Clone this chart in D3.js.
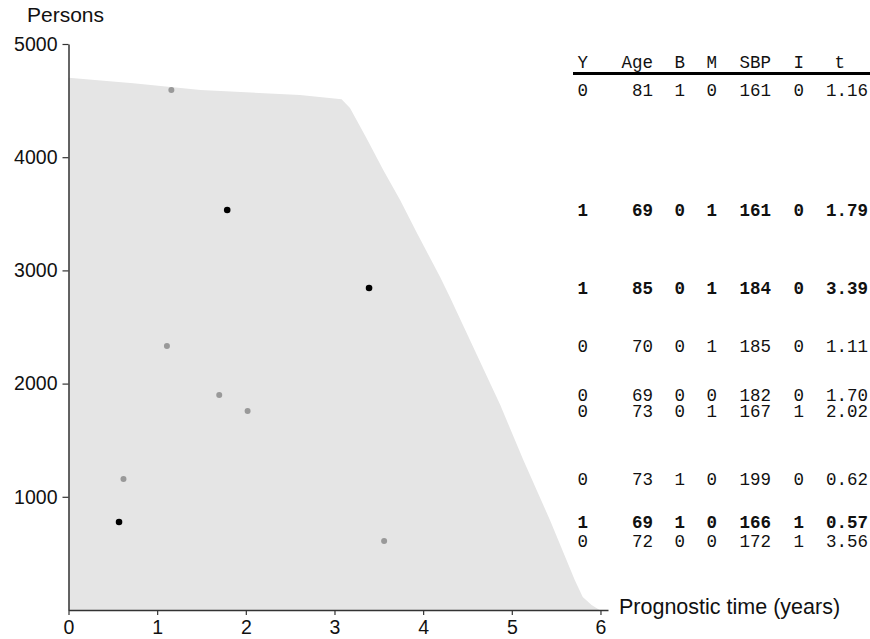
<!DOCTYPE html>
<html>
<head>
<meta charset="utf-8">
<script src="https://cdn.jsdelivr.net/npm/d3@7"></script>
<style>
    body { margin: 0; background: #fff; }
    svg { display: block; }
</style>
</head>
<body>
<svg width="870" height="639"></svg>
<script>
// persons still at risk over time (outline of the grey area)
const riskTime = [0, 0.73, 1.49, 2.61, 3.08, 3.175, 3.36, 3.55, 3.74, 3.93, 4.19, 4.30, 4.87, 5.13, 5.43, 5.71, 5.80, 5.90, 5.99];
const riskCount = [4702, 4653, 4594, 4549, 4512, 4435, 4170, 3887, 3622, 3330, 2944, 2768, 1811, 1325, 795, 265, 115, 45, 0];

// sampled persons (one row in the table each)
const rowPersons = [4594, 3534, 2845, 2332, 1899, 1758, 1157, 777, 610];
const rowY = [0, 1, 1, 0, 0, 0, 0, 1, 0];
const rowAge = [81, 69, 85, 70, 69, 73, 73, 69, 72];
const rowB = [1, 0, 0, 0, 0, 0, 1, 1, 0];
const rowM = [0, 1, 1, 1, 0, 1, 0, 0, 0];
const rowSBP = [161, 161, 184, 185, 182, 167, 199, 166, 172];
const rowI = [0, 0, 0, 0, 0, 1, 0, 1, 1];
const rowT = ["1.16", "1.79", "3.39", "1.11", "1.70", "2.02", "0.62", "0.57", "3.56"];

const tableHeader = ["Y", "Age", "B", "M", "SBP", "I", "t"];
const xTicks = [0, 1, 2, 3, 4, 5, 6];
const yTicks = [1000, 2000, 3000, 4000, 5000];

const svg = d3.select("svg");

const scaleX = d3.scaleLinear().domain([0, 6.085]).range([68.5, 608]);
const scaleY = d3.scaleLinear().domain([0, 5000]).range([610, 44]);

// grey area
const riskData = riskTime.map((t, i) => ({ t: t, n: riskCount[i] }));
const area = d3.area()
    .x((d) => scaleX(d.t))
    .y0(scaleY(0))
    .y1((d) => scaleY(d.n));

svg.append("path")
    .datum(riskData)
    .attr("d", area)
    .style("fill", "#e5e5e5");

// axes
const axisX = d3.axisBottom(scaleX)
    .tickValues(xTicks)
    .tickFormat(d3.format("d"))
    .tickSize(5)
    .tickSizeOuter(0)
    .tickPadding(5);

const axisY = d3.axisLeft(scaleY)
    .tickValues(yTicks)
    .tickFormat(d3.format("d"))
    .tickSize(6)
    .tickSizeOuter(0)
    .tickPadding(5);

const gx = svg.append("g")
    .attr("transform", `translate(0, ${scaleY(0)})`)
    .call(axisX);

const gy = svg.append("g")
    .attr("transform", `translate(${scaleX(0)}, 0)`)
    .call(axisY);

[gx, gy].forEach((g) => {
    g.select(".domain").style("stroke", "#333").style("stroke-width", 1.5);
    g.selectAll(".tick line").style("stroke", "#333").style("stroke-width", 1.2);
    g.selectAll(".tick text")
        .style("font-family", "'Liberation Sans', Arial, sans-serif")
        .style("font-size", "19.5px")
        .style("fill", "#111");
});

svg.append("text")
    .attr("x", 27)
    .attr("y", 22)
    .style("font-family", "'Liberation Sans', Arial, sans-serif")
    .style("font-size", "21px")
    .style("fill", "#111")
    .text("Persons");

svg.append("text")
    .attr("x", 619)
    .attr("y", 614)
    .style("font-family", "'Liberation Sans', Arial, sans-serif")
    .style("font-size", "21.5px")
    .style("fill", "#111")
    .text("Prognostic time (years)");

// dots
const rows = rowPersons.map((p, i) => ({
    p: p, y: rowY[i], age: rowAge[i], b: rowB[i], m: rowM[i],
    sbp: rowSBP[i], inf: rowI[i], t: rowT[i]
}));

svg.selectAll(".dot")
    .data(rows)
    .enter()
    .append("circle")
    .attr("class", "dot")
    .attr("cx", (d) => scaleX(+d.t))
    .attr("cy", (d) => scaleY(d.p))
    .attr("r", (d) => d.y === 1 ? 3.3 : 3)
    .style("fill", (d) => d.y === 1 ? "#000" : "#999");

// table
const colEnd = [588, 653, 685, 717, 771, 804, 868];
const headEnd = [588, 653, 685, 717, 771, 804, 845];
const mono = "'Courier New', 'Liberation Mono', monospace";

svg.selectAll(".head")
    .data(tableHeader)
    .enter()
    .append("text")
    .attr("class", "head")
    .attr("x", (d, i) => headEnd[i])
    .attr("y", 68)
    .attr("text-anchor", "end")
    .style("font-family", mono)
    .style("font-size", "17.5px")
    .style("fill", "#111")
    .text((d) => d);

svg.append("line")
    .attr("x1", 573)
    .attr("x2", 870)
    .attr("y1", 73.5)
    .attr("y2", 73.5)
    .style("stroke", "#000")
    .style("stroke-width", 3);

const rowG = svg.selectAll(".row")
    .data(rows)
    .enter()
    .append("g")
    .attr("class", "row")
    .attr("transform", (d) => `translate(0, ${scaleY(d.p)})`);

rowG.selectAll("text")
    .data((d) => [d.y, d.age, d.b, d.m, d.sbp, d.inf, d.t].map((v) => ({ v: v, bold: d.y === 1 })))
    .enter()
    .append("text")
    .attr("x", (d, i) => colEnd[i])
    .attr("dy", "0.36em")
    .attr("text-anchor", "end")
    .style("font-family", mono)
    .style("font-size", "17.5px")
    .style("font-weight", (d) => d.bold ? "bold" : "normal")
    .style("fill", "#111")
    .text((d) => d.v);
</script>
</body>
</html>
